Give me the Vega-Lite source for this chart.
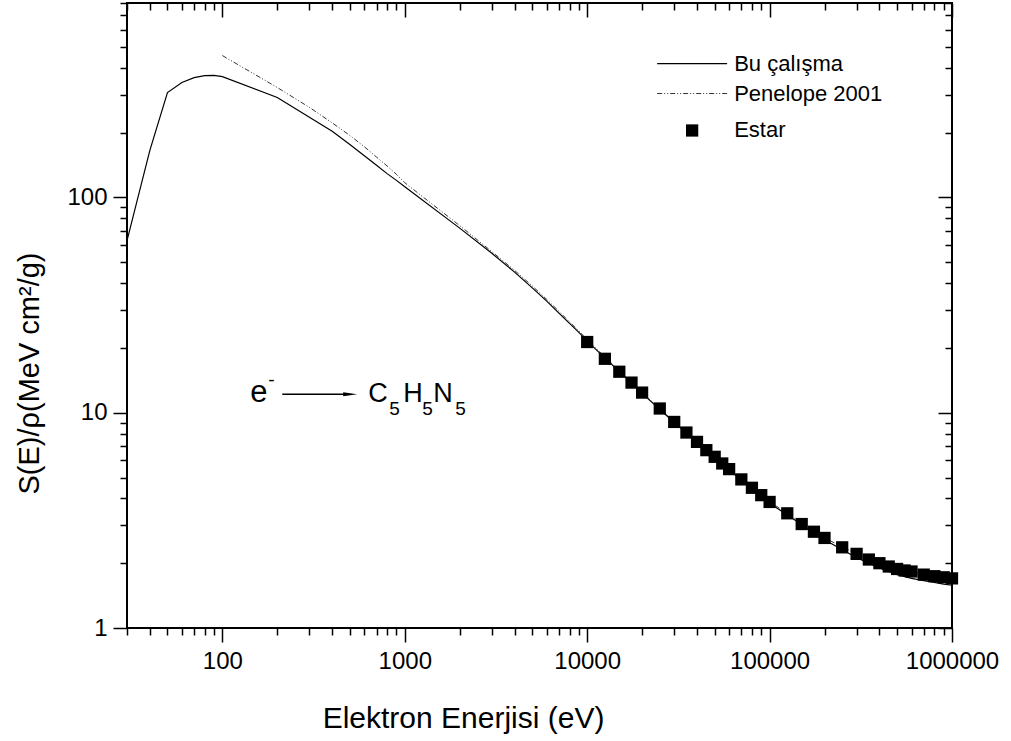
{
  "$schema": "https://vega.github.io/schema/vega-lite/v6.json",
  "width": 825,
  "height": 625,
  "autosize": {"type": "none"},
  "padding": {"left": 127, "top": 3, "right": 59, "bottom": 113},
  "background": "white",
  "config": {
    "font": "Liberation Sans",
    "view": {"stroke": "black", "strokeWidth": 2},
    "axis": {"grid": false, "domain": false, "tickColor": "black", "labelColor": "black", "titleColor": "black", "titleFontWeight": "normal"}
  },
  "datasets": {
    "bu": [
      {"E": 30, "S": 63}, {"E": 40, "S": 165}, {"E": 50, "S": 307}, {"E": 60, "S": 342},
      {"E": 70, "S": 360}, {"E": 80, "S": 368}, {"E": 90, "S": 369}, {"E": 100, "S": 364},
      {"E": 200, "S": 291}, {"E": 300, "S": 236}, {"E": 400, "S": 203}, {"E": 500, "S": 176},
      {"E": 600, "S": 156}, {"E": 700, "S": 141}, {"E": 800, "S": 129}, {"E": 900, "S": 120},
      {"E": 1000, "S": 112}, {"E": 2000, "S": 72}, {"E": 3000, "S": 55}, {"E": 4000, "S": 45},
      {"E": 5000, "S": 38}, {"E": 6000, "S": 33}, {"E": 7000, "S": 29}, {"E": 8000, "S": 26},
      {"E": 9000, "S": 23.6}, {"E": 10000, "S": 21.5}, {"E": 20000, "S": 12.3}, {"E": 30000, "S": 9.0},
      {"E": 40000, "S": 7.28}, {"E": 50000, "S": 6.2}, {"E": 60000, "S": 5.43}, {"E": 70000, "S": 4.86},
      {"E": 80000, "S": 4.42}, {"E": 90000, "S": 4.08}, {"E": 100000, "S": 3.8}, {"E": 200000, "S": 2.57},
      {"E": 300000, "S": 2.12}, {"E": 400000, "S": 1.9}, {"E": 500000, "S": 1.77}, {"E": 600000, "S": 1.7},
      {"E": 700000, "S": 1.66}, {"E": 800000, "S": 1.63}, {"E": 900000, "S": 1.6}, {"E": 1000000, "S": 1.58}
    ],
    "pen": [
      {"E": 100, "S": 456}, {"E": 200, "S": 324}, {"E": 300, "S": 262}, {"E": 400, "S": 222},
      {"E": 500, "S": 194}, {"E": 600, "S": 172}, {"E": 700, "S": 154}, {"E": 800, "S": 140},
      {"E": 900, "S": 128}, {"E": 1000, "S": 117}, {"E": 2000, "S": 74}, {"E": 3000, "S": 56},
      {"E": 4000, "S": 45.8}, {"E": 5000, "S": 38.8}, {"E": 6000, "S": 33.6}, {"E": 7000, "S": 29.6},
      {"E": 8000, "S": 26.4}, {"E": 9000, "S": 24}, {"E": 10000, "S": 21.8}, {"E": 20000, "S": 12.4},
      {"E": 30000, "S": 9.07}, {"E": 40000, "S": 7.33}, {"E": 50000, "S": 6.25}, {"E": 60000, "S": 5.48},
      {"E": 70000, "S": 4.9}, {"E": 80000, "S": 4.48}, {"E": 90000, "S": 4.14}, {"E": 100000, "S": 3.86},
      {"E": 200000, "S": 2.62}, {"E": 300000, "S": 2.21}, {"E": 400000, "S": 2.0}, {"E": 500000, "S": 1.88},
      {"E": 600000, "S": 1.83}, {"E": 700000, "S": 1.77}, {"E": 800000, "S": 1.74}, {"E": 900000, "S": 1.72},
      {"E": 1000000, "S": 1.7}
    ],
    "estar": [
      {"E": 10000, "S": 21.3}, {"E": 12500, "S": 17.8}, {"E": 15000, "S": 15.5}, {"E": 17500, "S": 13.8},
      {"E": 20000, "S": 12.4}, {"E": 25000, "S": 10.46}, {"E": 30000, "S": 9.06}, {"E": 35000, "S": 8.09},
      {"E": 40000, "S": 7.32}, {"E": 45000, "S": 6.7}, {"E": 50000, "S": 6.24}, {"E": 55000, "S": 5.81},
      {"E": 60000, "S": 5.47}, {"E": 70000, "S": 4.9}, {"E": 80000, "S": 4.48}, {"E": 90000, "S": 4.14},
      {"E": 100000, "S": 3.85}, {"E": 125000, "S": 3.41}, {"E": 150000, "S": 3.04}, {"E": 175000, "S": 2.8},
      {"E": 200000, "S": 2.62}, {"E": 250000, "S": 2.37}, {"E": 300000, "S": 2.21}, {"E": 350000, "S": 2.08},
      {"E": 400000, "S": 2.0}, {"E": 450000, "S": 1.93}, {"E": 500000, "S": 1.88}, {"E": 550000, "S": 1.85},
      {"E": 600000, "S": 1.83}, {"E": 700000, "S": 1.77}, {"E": 800000, "S": 1.74}, {"E": 900000, "S": 1.72},
      {"E": 1000000, "S": 1.7}
    ],
    "legBu": [{"E1": 24189, "E2": 58480, "S": 418.6}],
    "legPen": [{"E1": 24189, "E2": 58480, "S": 303.8}],
    "legEstar": [{"E": 37610, "S": 204.6}],
    "legText": [
      {"E": 63920, "S": 418.6, "t": "Bu çalışma"},
      {"E": 63920, "S": 303.8, "t": "Penelope 2001"},
      {"E": 63920, "S": 204.6, "t": "Estar"}
    ],
    "annE": [{"E": 142.3, "S": 11.19, "t": "e"}],
    "annMain": [
      {"E": 631, "S": 11.19, "t": "C"},
      {"E": 981, "S": 11.19, "t": "H"},
      {"E": 1432, "S": 11.19, "t": "N"}
    ],
    "annSmall": [
      {"E": 178.6, "S": 13.35, "t": "-"},
      {"E": 822, "S": 9.74, "t": "5"},
      {"E": 1247, "S": 9.74, "t": "5"},
      {"E": 1891, "S": 9.74, "t": "5"}
    ],
    "arrow": [{"E1": 213, "E2": 480, "S": 12.18}],
    "arrowHead": [{"E": 502, "S": 12.18}]
  },
  "resolve": {"axis": {"x": "independent", "y": "independent"}},
  "layer": [
    {
      "data": {"name": "bu"},
      "mark": {"type": "line", "color": "black", "strokeWidth": 1.2},
      "encoding": {
        "x": {"field": "E", "type": "quantitative",
          "scale": {"type": "log", "domain": [30, 1000000], "nice": false},
          "axis": {
            "orient": "bottom",
            "values": [30,40,50,60,70,80,90,100,200,300,400,500,600,700,800,900,1000,2000,3000,4000,5000,6000,7000,8000,9000,10000,20000,30000,40000,50000,60000,70000,80000,90000,100000,200000,300000,400000,500000,600000,700000,800000,900000,1000000],
            "labelExpr": "indexof([100,1000,10000,100000,1000000], datum.value) >= 0 ? format(datum.value, 'd') : ''",
            "tickSize": {"condition": {"test": "indexof([100,1000,10000,100000,1000000], datum.value) >= 0", "value": 14}, "value": 7},
            "tickWidth": 1.5,
            "labelFontSize": 24,
            "labelPadding": 7,
            "labelFlush": false,
            "labelOverlap": false,
            "labelBound": false,
            "title": "Elektron Enerjisi (eV)",
            "titleFontSize": 30,
            "titleX": 336,
            "titleY": 99,
            "titleAlign": "center",
            "titleBaseline": "alphabetic"
          }
        },
        "y": {"field": "S", "type": "quantitative",
          "scale": {"type": "log", "domain": [1, 800], "nice": false},
          "axis": {
            "orient": "left",
            "values": [1,2,3,4,5,6,7,8,9,10,20,30,40,50,60,70,80,90,100,200,300,400,500,600,700,800],
            "labelExpr": "indexof([1,10,100], datum.value) >= 0 ? format(datum.value, 'd') : ''",
            "tickSize": {"condition": {"test": "indexof([1,10,100], datum.value) >= 0", "value": 14}, "value": 7},
            "tickWidth": 1.5,
            "labelFontSize": 24,
            "labelPadding": 6,
            "labelOverlap": false,
            "labelFlush": false,
            "labelBound": false,
            "title": "S(E)/ρ(MeV cm²/g)",
            "titleFontSize": 29,
            "titleX": -98,
            "titleY": 370,
            "titleAngle": -90,
            "titleAlign": "center",
            "titleBaseline": "middle"
          }
        }
      }
    },
    {
      "data": {"name": "pen"},
      "mark": {"type": "line", "color": "#333333", "strokeWidth": 1, "strokeDash": [5, 2, 1, 2, 1, 2]},
      "encoding": {
        "x": {"field": "E", "type": "quantitative",
          "scale": {"type": "log", "domain": [30, 1000000], "nice": false},
          "axis": {
            "orient": "top",
            "values": [30,40,50,60,70,80,90,100,200,300,400,500,600,700,800,900,1000,2000,3000,4000,5000,6000,7000,8000,9000,10000,20000,30000,40000,50000,60000,70000,80000,90000,100000,200000,300000,400000,500000,600000,700000,800000,900000,1000000],
            "labels": false,
            "title": null,
            "tickSize": {"condition": {"test": "indexof([100,1000,10000,100000,1000000], datum.value) >= 0", "value": -14}, "value": -7},
            "tickWidth": 1.5
          }
        },
        "y": {"field": "S", "type": "quantitative",
          "scale": {"type": "log", "domain": [1, 800], "nice": false},
          "axis": {
            "orient": "right",
            "values": [1,2,3,4,5,6,7,8,9,10,20,30,40,50,60,70,80,90,100,200,300,400,500,600,700,800],
            "labels": false,
            "title": null,
            "tickSize": {"condition": {"test": "indexof([1,10,100], datum.value) >= 0", "value": -14}, "value": -7},
            "tickWidth": 1.5
          }
        }
      }
    },
    {
      "data": {"name": "estar"},
      "mark": {"type": "point", "shape": "square", "filled": true, "color": "black", "size": 150, "opacity": 1},
      "encoding": {
        "x": {"field": "E", "type": "quantitative", "scale": {"type": "log", "domain": [30, 1000000], "nice": false}, "axis": null},
        "y": {"field": "S", "type": "quantitative", "scale": {"type": "log", "domain": [1, 800], "nice": false}, "axis": null}
      }
    },
    {
      "data": {"name": "legBu"},
      "mark": {"type": "rule", "color": "black", "strokeWidth": 1.2},
      "encoding": {
        "x": {"field": "E1", "type": "quantitative", "scale": {"type": "log", "domain": [30, 1000000], "nice": false}, "axis": null},
        "x2": {"field": "E2"},
        "y": {"field": "S", "type": "quantitative", "scale": {"type": "log", "domain": [1, 800], "nice": false}, "axis": null}
      }
    },
    {
      "data": {"name": "legPen"},
      "mark": {"type": "rule", "color": "#333333", "strokeWidth": 1, "strokeDash": [5, 2, 1, 2, 1, 2]},
      "encoding": {
        "x": {"field": "E1", "type": "quantitative", "scale": {"type": "log", "domain": [30, 1000000], "nice": false}, "axis": null},
        "x2": {"field": "E2"},
        "y": {"field": "S", "type": "quantitative", "scale": {"type": "log", "domain": [1, 800], "nice": false}, "axis": null}
      }
    },
    {
      "data": {"name": "legEstar"},
      "mark": {"type": "point", "shape": "square", "filled": true, "color": "black", "size": 150, "opacity": 1},
      "encoding": {
        "x": {"field": "E", "type": "quantitative", "scale": {"type": "log", "domain": [30, 1000000], "nice": false}, "axis": null},
        "y": {"field": "S", "type": "quantitative", "scale": {"type": "log", "domain": [1, 800], "nice": false}, "axis": null}
      }
    },
    {
      "data": {"name": "legText"},
      "mark": {"type": "text", "align": "left", "baseline": "middle", "fontSize": 22, "color": "black"},
      "encoding": {
        "x": {"field": "E", "type": "quantitative", "scale": {"type": "log", "domain": [30, 1000000], "nice": false}, "axis": null},
        "y": {"field": "S", "type": "quantitative", "scale": {"type": "log", "domain": [1, 800], "nice": false}, "axis": null},
        "text": {"field": "t"}
      }
    },
    {
      "data": {"name": "annE"},
      "mark": {"type": "text", "align": "left", "baseline": "alphabetic", "fontSize": 31, "color": "black"},
      "encoding": {
        "x": {"field": "E", "type": "quantitative", "scale": {"type": "log", "domain": [30, 1000000], "nice": false}, "axis": null},
        "y": {"field": "S", "type": "quantitative", "scale": {"type": "log", "domain": [1, 800], "nice": false}, "axis": null},
        "text": {"field": "t"}
      }
    },
    {
      "data": {"name": "annMain"},
      "mark": {"type": "text", "align": "left", "baseline": "alphabetic", "fontSize": 27, "color": "black"},
      "encoding": {
        "x": {"field": "E", "type": "quantitative", "scale": {"type": "log", "domain": [30, 1000000], "nice": false}, "axis": null},
        "y": {"field": "S", "type": "quantitative", "scale": {"type": "log", "domain": [1, 800], "nice": false}, "axis": null},
        "text": {"field": "t"}
      }
    },
    {
      "data": {"name": "annSmall"},
      "mark": {"type": "text", "align": "left", "baseline": "alphabetic", "fontSize": 19, "color": "black"},
      "encoding": {
        "x": {"field": "E", "type": "quantitative", "scale": {"type": "log", "domain": [30, 1000000], "nice": false}, "axis": null},
        "y": {"field": "S", "type": "quantitative", "scale": {"type": "log", "domain": [1, 800], "nice": false}, "axis": null},
        "text": {"field": "t"}
      }
    },
    {
      "data": {"name": "arrow"},
      "mark": {"type": "rule", "color": "black", "strokeWidth": 1.5},
      "encoding": {
        "x": {"field": "E1", "type": "quantitative", "scale": {"type": "log", "domain": [30, 1000000], "nice": false}, "axis": null},
        "x2": {"field": "E2"},
        "y": {"field": "S", "type": "quantitative", "scale": {"type": "log", "domain": [1, 800], "nice": false}, "axis": null}
      }
    },
    {
      "data": {"name": "arrowHead"},
      "mark": {"type": "point", "shape": "M-1,-0.3L1,0L-1,0.3Z", "filled": true, "color": "black", "size": 196, "opacity": 1},
      "encoding": {
        "x": {"field": "E", "type": "quantitative", "scale": {"type": "log", "domain": [30, 1000000], "nice": false}, "axis": null},
        "y": {"field": "S", "type": "quantitative", "scale": {"type": "log", "domain": [1, 800], "nice": false}, "axis": null}
      }
    }
  ]
}
